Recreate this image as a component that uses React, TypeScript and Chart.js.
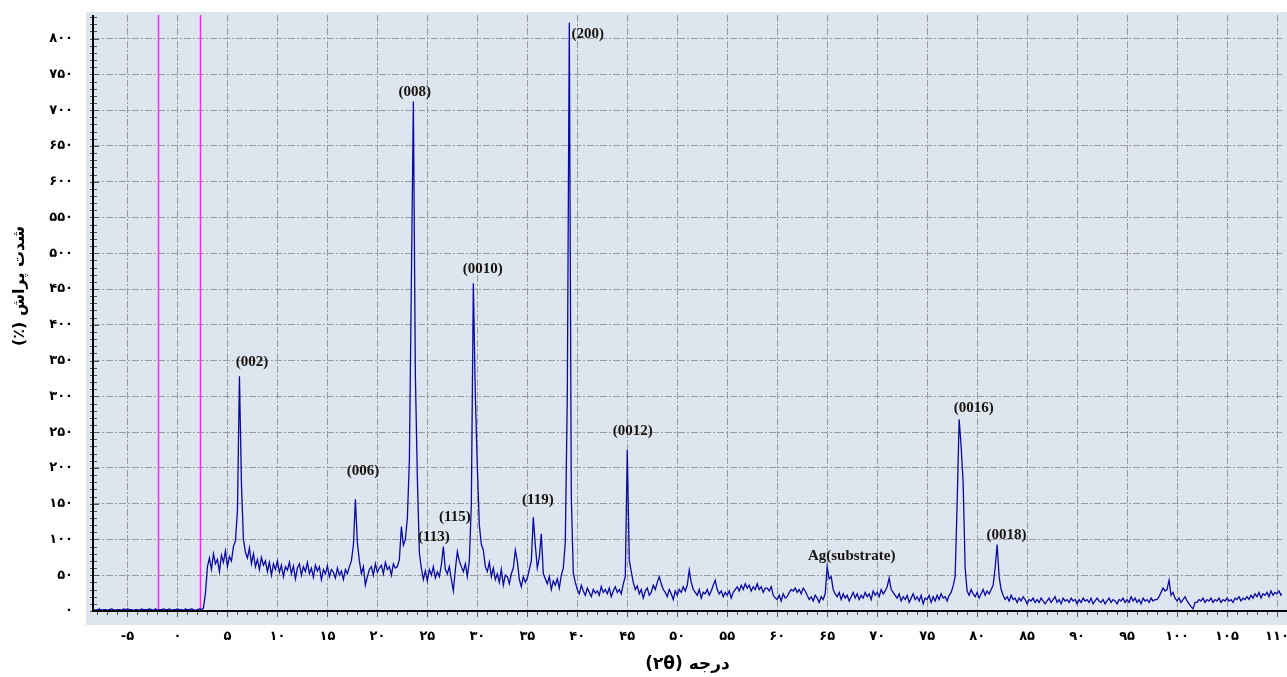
import React, { useEffect, useRef } from 'react';
import { Chart, registerables } from 'chart.js';

Chart.register(...registerables);

// XRD scan: 2θ grid starts at scanStart and advances by scanStep (one row = one degree)
const scanStart = -9.0;
const scanStep = 0.2;
const intensity = [
  2, 1, 2, 2, 1, // -9
  2, 3, 1, 2, 2, // -8
  1, 2, 3, 2, 1, // -7
  2, 2, 1, 3, 2, // -6
  3, 2, 2, 1, 2, // -5
  2, 1, 3, 2, 2, // -4
  2, 3, 2, 1, 3, // -3
  1, 2, 2, 3, 2, // -2
  2, 3, 1, 2, 2, // -1
  3, 2, 2, 1, 3, // 0
  2, 2, 3, 2, 1, // 1
  2, 3, 2, 4, 25, // 2
  62, 74, 58, 80, 66, // 3
  72, 55, 78, 68, 84, // 4
  62, 76, 70, 90, 98, // 5
  140, 328, 178, 100, 82, // 6
  74, 88, 66, 80, 62, // 7
  72, 58, 75, 64, 70, // 8
  55, 68, 50, 66, 58, // 9
  70, 54, 64, 48, 62, // 10
  57, 68, 52, 63, 45, // 11
  60, 66, 50, 62, 55, // 12
  68, 52, 60, 47, 64, // 13
  56, 62, 44, 58, 52, // 14
  63, 48, 58, 54, 46, // 15
  60, 50, 56, 44, 58, // 16
  52, 62, 70, 92, 156, // 17
  95, 70, 52, 62, 36, // 18
  48, 58, 62, 50, 66, // 19
  54, 60, 64, 52, 68, // 20
  58, 62, 50, 66, 60, // 21
  62, 72, 118, 92, 100, // 22
  130, 210, 460, 712, 330, // 23
  186, 81, 60, 44, 56, // 24
  42, 58, 50, 62, 46, // 25
  55, 48, 64, 90, 58, // 26
  52, 62, 44, 28, 58, // 27
  83, 70, 62, 55, 66, // 28
  48, 70, 150, 458, 300, // 29
  201, 120, 93, 85, 62, // 30
  55, 68, 48, 60, 44, // 31
  52, 40, 58, 36, 50, // 32
  48, 38, 52, 60, 85, // 33
  70, 44, 34, 48, 40, // 34
  46, 58, 70, 131, 92, // 35
  60, 75, 108, 52, 45, // 36
  38, 48, 30, 42, 36, // 37
  45, 32, 50, 60, 97, // 38
  300, 822, 160, 53, 40, // 39
  30, 24, 36, 28, 22, // 40
  32, 26, 20, 30, 25, // 41
  28, 22, 34, 26, 30, // 42
  24, 32, 20, 28, 34, // 43
  26, 30, 24, 38, 48, // 44
  225, 71, 55, 40, 30, // 45
  35, 24, 30, 18, 28, // 46
  32, 22, 26, 36, 30, // 47
  40, 48, 38, 30, 26, // 48
  20, 30, 24, 16, 28, // 49
  22, 30, 26, 34, 28, // 50
  36, 57, 40, 30, 26, // 51
  22, 30, 18, 26, 24, // 52
  30, 22, 28, 36, 43, // 53
  30, 24, 28, 20, 26, // 54
  22, 28, 18, 26, 30, // 55
  34, 28, 36, 30, 38, // 56
  32, 36, 28, 34, 30, // 57
  38, 30, 34, 26, 32, // 58
  32, 28, 34, 22, 18, // 59
  16, 22, 14, 24, 18, // 60
  20, 26, 30, 28, 32, // 61
  26, 30, 24, 32, 28, // 62
  22, 16, 20, 14, 22, // 63
  18, 12, 20, 16, 24, // 64
  62, 45, 48, 30, 24, // 65
  20, 26, 16, 24, 18, // 66
  22, 14, 20, 26, 18, // 67
  24, 16, 22, 18, 26, // 68
  20, 24, 16, 28, 22, // 69
  26, 20, 30, 24, 28, // 70
  34, 46, 30, 26, 22, // 71
  18, 24, 14, 20, 16, // 72
  22, 12, 18, 24, 16, // 73
  20, 14, 22, 10, 18, // 74
  16, 22, 12, 20, 14, // 75
  22, 16, 24, 18, 20, // 76
  14, 22, 26, 35, 48, // 77
  150, 268, 230, 180, 60, // 78
  28, 22, 30, 24, 20, // 79
  26, 18, 24, 30, 22, // 80
  28, 24, 30, 36, 60, // 81
  93, 48, 30, 22, 16, // 82
  20, 14, 22, 16, 18, // 83
  12, 18, 14, 20, 16, // 84
  10, 16, 14, 18, 12, // 85
  16, 12, 18, 14, 10, // 86
  14, 18, 12, 16, 20, // 87
  12, 16, 10, 18, 14, // 88
  16, 12, 18, 14, 16, // 89
  10, 16, 12, 18, 14, // 90
  16, 12, 18, 10, 14, // 91
  18, 14, 12, 16, 10, // 92
  14, 18, 12, 16, 14, // 93
  10, 16, 14, 18, 12, // 94
  16, 12, 20, 14, 18, // 95
  12, 16, 10, 18, 14, // 96
  16, 12, 18, 14, 16, // 97
  16, 20, 26, 32, 28, // 98
  30, 43, 22, 26, 18, // 99
  14, 18, 12, 16, 20, // 100
  14, 10, 6, 3, 12, // 101
  12, 16, 14, 18, 12, // 102
  16, 14, 18, 12, 16, // 103
  14, 18, 12, 16, 14, // 104
  18, 14, 16, 12, 18, // 105
  16, 20, 14, 18, 16, // 106
  20, 16, 22, 18, 24, // 107
  20, 26, 18, 24, 22, // 108
  26, 20, 28, 22, 26, // 109
  24, 28, 22, 26, 24, // 110
];

const xTickValues = [-5, 0, 5, 10, 15, 20, 25, 30, 35, 40, 45, 50, 55, 60, 65, 70, 75, 80, 85, 90, 95, 100, 105, 110];
const xTickLabels = ['-۵', '۰', '۵', '۱۰', '۱۵', '۲۰', '۲۵', '۳۰', '۳۵', '۴۰', '۴۵', '۵۰', '۵۵', '۶۰', '۶۵', '۷۰', '۷۵', '۸۰', '۸۵', '۹۰', '۹۵', '۱۰۰', '۱۰۵', '۱۱۰'];
const yTickValues = [0, 50, 100, 150, 200, 250, 300, 350, 400, 450, 500, 550, 600, 650, 700, 750, 800];
const yTickLabels = ['۰', '۵۰', '۱۰۰', '۱۵۰', '۲۰۰', '۲۵۰', '۳۰۰', '۳۵۰', '۴۰۰', '۴۵۰', '۵۰۰', '۵۵۰', '۶۰۰', '۶۵۰', '۷۰۰', '۷۵۰', '۸۰۰'];

const peakLabels = ['(002)', '(006)', '(008)', '(113)', '(115)', '(0010)', '(119)', '(200)', '(0012)', 'Ag(substrate)', '(0016)', '(0018)'];
const peakLabelX = [7.45, 18.55, 23.75, 25.65, 27.75, 30.55, 36.05, 41.05, 45.55, 67.45, 79.65, 82.95];
const peakLabelY = [348, 196, 725, 103, 131, 478, 155, 806, 251, 77, 283, 106];

const markerAngles = [-1.9, 2.3];

const xTitle = 'درجه (۲θ)';
const yTitle = 'شدت پراش (٪)';

const overlay = {
  id: 'overlay',
  beforeDraw(chart: any) {
    const { ctx, chartArea, width, height } = chart;
    ctx.save();
    ctx.fillStyle = '#ffffff';
    ctx.fillRect(0, 0, width, height);
    ctx.fillStyle = '#dde6ef';
    ctx.fillRect(chartArea.left - 7, chartArea.top - 3, width - (chartArea.left - 7), chartArea.bottom + 14 - (chartArea.top - 3));
    ctx.restore();
  },
  beforeDatasetsDraw(chart: any) {
    const { ctx, chartArea, scales } = chart;
    ctx.save();
    ctx.strokeStyle = '#ff22ff';
    ctx.lineWidth = 1.5;
    markerAngles.forEach((a) => {
      const px = Math.round(scales.x.getPixelForValue(a)) + 0.5;
      ctx.beginPath();
      ctx.moveTo(px, chartArea.top);
      ctx.lineTo(px, chartArea.bottom);
      ctx.stroke();
    });
    ctx.restore();
  },
  afterDatasetsDraw(chart: any) {
    const { ctx, chartArea, scales, width } = chart;
    const xs = scales.x;
    const ys = scales.y;
    ctx.save();
    // minor ticks
    ctx.strokeStyle = '#555';
    ctx.lineWidth = 1;
    for (let v = Math.ceil(xs.min); v <= xs.max; v += 1) {
      const px = Math.round(xs.getPixelForValue(v)) + 0.5;
      const len = v % 5 === 0 ? 6 : 4;
      ctx.beginPath();
      ctx.moveTo(px, chartArea.bottom);
      ctx.lineTo(px, chartArea.bottom + len);
      ctx.stroke();
    }
    for (let v = 0; v <= ys.max; v += 10) {
      const py = Math.round(ys.getPixelForValue(v)) + 0.5;
      const len = v % 50 === 0 ? 6 : 4;
      ctx.beginPath();
      ctx.moveTo(chartArea.left - 3, py);
      ctx.lineTo(chartArea.left + len, py);
      ctx.stroke();
    }
    // axis lines
    ctx.strokeStyle = '#000';
    ctx.lineWidth = 2;
    ctx.beginPath();
    ctx.moveTo(chartArea.left, chartArea.top);
    ctx.lineTo(chartArea.left, chartArea.bottom);
    ctx.lineTo(width, chartArea.bottom);
    ctx.stroke();
    // peak labels
    ctx.font = 'bold 15px "Liberation Serif"';
    ctx.fillStyle = '#1a1410';
    ctx.textAlign = 'center';
    ctx.textBaseline = 'middle';
    peakLabels.forEach((t, i) => {
      ctx.fillText(t, xs.getPixelForValue(peakLabelX[i]), ys.getPixelForValue(peakLabelY[i]));
    });
    // axis titles
    ctx.fillStyle = '#000';
    ctx.font = 'bold 17px "DejaVu Sans"';
    (ctx as any).direction = 'rtl';
    ctx.textAlign = 'center';
    ctx.fillText(xTitle, (chartArea.left + chartArea.right) / 2, 665);
    ctx.translate(20, 286);
    ctx.rotate(-Math.PI / 2);
    ctx.font = 'bold 16px "DejaVu Sans"';
    ctx.fillText(yTitle, 0, 0);
    ctx.restore();
  },
};

export default function App() {
  const canvasRef = useRef<HTMLCanvasElement | null>(null);

  useEffect(() => {
    document.body.style.margin = '0';
    const canvas = canvasRef.current;
    if (!canvas) return;
    const points = intensity.map((v, i) => ({ x: Math.round((scanStart + i * scanStep) * 10) / 10, y: v }));
    const tickFont = { family: '"DejaVu Sans"', size: 13, weight: 'bold' as const };
    const chart = new Chart(canvas, {
      type: 'line',
      data: {
        datasets: [
          {
            data: points,
            borderColor: '#0a0aa0',
            borderWidth: 1.3,
            pointRadius: 0,
            tension: 0,
            fill: false,
          },
        ],
      },
      options: {
        animation: false,
        responsive: false,
        devicePixelRatio: 1,
        events: [],
        layout: { padding: { left: 0, top: 15, right: 5, bottom: 0 } },
        plugins: { legend: { display: false }, tooltip: { enabled: false }, title: { display: false } },
        scales: {
          x: {
            type: 'linear',
            min: -8.45,
            max: 110.5,
            afterFit(s: any) {
              s.height = 66;
              s.paddingLeft = 0;
              s.paddingRight = 0;
            },
            ticks: {
              stepSize: 5,
              includeBounds: false,
              autoSkip: false,
              maxRotation: 0,
              padding: 18,
              color: '#000',
              font: tickFont,
              callback: (v: any) => {
                const i = xTickValues.indexOf(Number(v));
                return i >= 0 ? xTickLabels[i] : '';
              },
            },
            grid: { color: '#9a9a9a', lineWidth: 1, drawTicks: false },
            border: { display: false, dash: [7, 2, 2, 2] },
          },
          y: {
            type: 'linear',
            min: 0,
            max: 833,
            afterFit(s: any) {
              s.width = 93;
              s.paddingTop = 0;
              s.paddingBottom = 0;
            },
            ticks: {
              stepSize: 50,
              includeBounds: false,
              autoSkip: false,
              padding: 20,
              color: '#000',
              font: tickFont,
              callback: (v: any) => {
                const i = yTickValues.indexOf(Number(v));
                return i >= 0 ? yTickLabels[i] : '';
              },
            },
            grid: { color: '#9a9a9a', lineWidth: 1, drawTicks: false },
            border: { display: false, dash: [7, 2, 2, 2] },
          },
        },
      },
      plugins: [overlay],
    });
    return () => chart.destroy();
  }, []);

  return (
    <div style={{ width: 1287, height: 677 }}>
      <canvas ref={canvasRef} width={1287} height={677} style={{ display: 'block' }} />
    </div>
  );
}
